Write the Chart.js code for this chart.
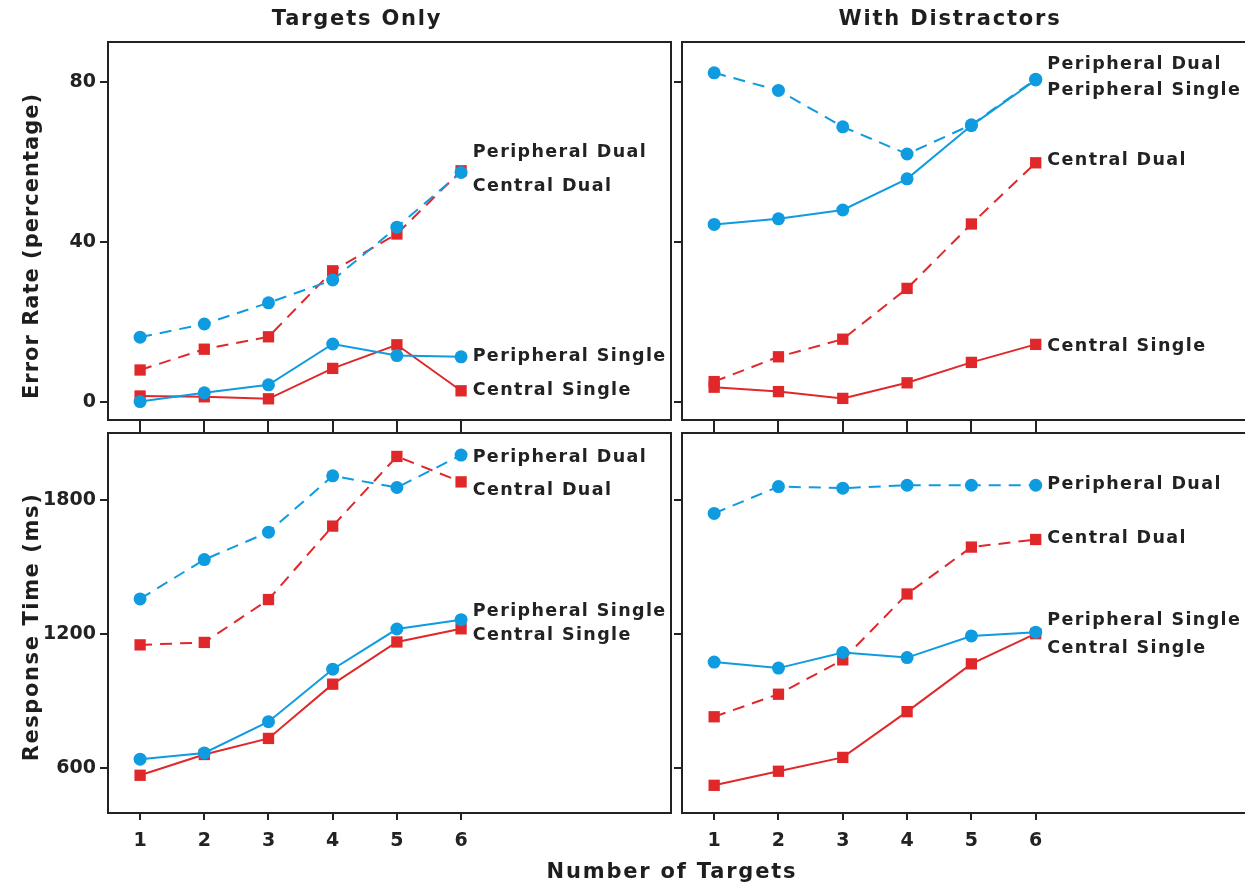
<!DOCTYPE html>
<html>
<head>
<meta charset="utf-8">
<script src="https://cdn.jsdelivr.net/npm/chart.js@4.4.1/dist/chart.umd.min.js"></script>
<style>
  body { margin: 0; background: #fff; width: 1245px; height: 885px; overflow: hidden; position: relative; font-family: "DejaVu Sans", sans-serif; }
  canvas { position: absolute; }
  .txt { position: absolute; font-weight: bold; font-size: 21px; color: #1e1e1e; white-space: nowrap; letter-spacing: 1.8px; }
  .rot { transform: translate(-50%, -50%) rotate(-90deg); letter-spacing: 1.4px; }
  .ctr { transform: translate(-50%, -50%); }
</style>
</head>
<body>
<canvas id="c1" width="680" height="440" style="left:0;top:0"></canvas>
<canvas id="c2" width="600" height="440" style="left:672px;top:0"></canvas>
<canvas id="c3" width="680" height="470" style="left:0;top:415px"></canvas>
<canvas id="c4" width="600" height="470" style="left:672px;top:415px"></canvas>

<div class="txt ctr" style="left:357px;top:18px">Targets Only</div>
<div class="txt ctr" style="left:950px;top:18px">With Distractors</div>
<div class="txt rot" style="left:31px;top:246px;letter-spacing:1px">Error Rate (percentage)</div>
<div class="txt rot" style="left:31px;top:627px;letter-spacing:1.6px">Response Time (ms)</div>
<div class="txt ctr" style="left:672px;top:871px">Number of Targets</div>

<script>
// datos
const xCats = [1, 2, 3, 4, 5, 6];
const seriesNames = ["Peripheral Dual", "Peripheral Single", "Central Dual", "Central Single"];

// Error rate - Targets Only
const errOnlyPD = [16.2, 19.5, 24.8, 30.5, 43.7, 57.4];
const errOnlyPS = [0.1, 2.3, 4.3, 14.5, 11.6, 11.3];
const errOnlyCD = [8.0, 13.2, 16.3, 32.8, 42.0, 57.8];
const errOnlyCS = [1.5, 1.3, 0.8, 8.4, 14.3, 2.8];
const errOnlyLabelY = [62.3, 11.3, 54.0, 3.0];

// Error rate - With Distractors
const errDisPD = [82.3, 77.9, 68.8, 62.0, 69.3, 80.7];
const errDisPS = [44.4, 45.8, 48.0, 55.8, 69.1, 80.5];
const errDisCD = [5.1, 11.3, 15.7, 28.4, 44.5, 59.8];
const errDisCS = [3.7, 2.6, 0.9, 4.8, 9.9, 14.4];
const errDisLabelY = [84.5, 78.0, 60.3, 14.0];

// Response time - Targets Only
const rtOnlyPD = [1357, 1533, 1656, 1908, 1856, 2001];
const rtOnlyPS = [639, 667, 807, 1042, 1222, 1264];
const rtOnlyCD = [1151, 1162, 1354, 1683, 1995, 1881];
const rtOnlyCS = [567, 660, 732, 975, 1164, 1223];
const rtOnlyLabelY = [1992, 1300, 1844, 1192];

// Response time - With Distractors
const rtDisPD = [1740, 1860, 1853, 1866, 1866, 1866];
const rtDisPS = [1074, 1047, 1117, 1094, 1191, 1208];
const rtDisCD = [829, 930, 1084, 1379, 1589, 1623];
const rtDisCS = [522, 585, 647, 852, 1066, 1201];
const rtDisLabelY = [1871, 1259, 1628, 1133];

const errTicks = [0, 40, 80];
const rtTicks = [600, 1200, 1800];
const labelX = 6.18;

const BLUE = "#0f9be0";
const RED = "#e0282b";
const INK = "#222222";

// caja alrededor del area
const boxPlugin = {
  id: "box",
  afterDraw(chart) {
    const a = chart.chartArea, ctx = chart.ctx;
    ctx.save();
    ctx.strokeStyle = INK;
    ctx.lineWidth = 2;
    ctx.strokeRect(a.left, a.top, a.right - a.left, a.bottom - a.top);
    ctx.restore();
  }
};

// etiquetas de series
const labelPlugin = {
  id: "seriesLabels",
  afterDatasetsDraw(chart, args, opts) {
    const ctx = chart.ctx;
    ctx.save();
    ctx.font = "bold 17.5px 'DejaVu Sans'";
    ctx.fillStyle = INK;
    ctx.textBaseline = "middle";
    ctx.letterSpacing = "1.4px";
    opts.ys.forEach((v, i) => {
      ctx.fillText(seriesNames[i], chart.scales.x.getPixelForValue(labelX), chart.scales.y.getPixelForValue(v));
    });
    ctx.restore();
  }
};

function pts(arr) {
  return xCats.map((x, i) => ({x: x, y: arr[i]}));
}

function ds(arr, color, dashed, shape) {
  return {
    data: pts(arr),
    borderColor: color,
    backgroundColor: color,
    borderWidth: 2,
    borderDash: dashed ? [12, 8] : [],
    pointStyle: shape,
    pointRadius: shape === "rect" ? 8 : 6.5,
    pointBorderWidth: 0,
    tension: 0
  };
}

const tickFont = {family: "DejaVu Sans", size: 19, weight: "bold"};

function makeChart(id, series, cfg) {
  return new Chart(document.getElementById(id), {
    type: "line",
    data: {
      datasets: [
        ds(series[0], BLUE, true, "circle"),
        ds(series[1], BLUE, false, "circle"),
        ds(series[2], RED, true, "rect"),
        ds(series[3], RED, false, "rect")
      ]
    },
    options: {
      responsive: false,
      animation: false,
      layout: {padding: cfg.padding},
      plugins: {
        legend: {display: false},
        tooltip: {enabled: false},
        seriesLabels: {ys: cfg.labelYs}
      },
      scales: {
        x: {
          type: "linear",
          min: 0.5,
          max: 9.27,
          afterBuildTicks: axis => { axis.ticks = xCats.map(v => ({value: v})); },
          afterFit: s => { s.height = cfg.xHeight; },
          border: {display: false},
          grid: {drawOnChartArea: false, drawTicks: true, tickLength: cfg.xTickLen, color: INK, lineWidth: 2},
          ticks: {display: cfg.showX, padding: 10, color: INK, font: tickFont, callback: v => String(v)}
        },
        y: {
          min: cfg.yMin,
          max: cfg.yMax,
          afterBuildTicks: axis => { axis.ticks = cfg.yTicks.map(v => ({value: v})); },
          afterFit: s => { s.width = cfg.yWidth; },
          border: {display: false},
          grid: {drawOnChartArea: false, drawTicks: true, tickLength: 8, color: INK, lineWidth: 2},
          ticks: {display: cfg.showY, padding: 4, color: INK, font: tickFont, callback: v => String(v)}
        }
      }
    },
    plugins: [boxPlugin, labelPlugin]
  });
}

makeChart("c1", [errOnlyPD, errOnlyPS, errOnlyCD, errOnlyCS], {
  padding: {top: 42, right: 9, left: 0, bottom: 0},
  xHeight: 20, xTickLen: 12, showX: false,
  yWidth: 108, showY: true, yMin: -4.5, yMax: 90, yTicks: errTicks, labelYs: errOnlyLabelY
});
makeChart("c2", [errDisPD, errDisPS, errDisCD, errDisCS], {
  padding: {top: 42, right: 26, left: 0, bottom: 0},
  xHeight: 20, xTickLen: 12, showX: false,
  yWidth: 10, showY: false, yMin: -4.5, yMax: 90, yTicks: errTicks, labelYs: errDisLabelY
});
makeChart("c3", [rtOnlyPD, rtOnlyPS, rtOnlyCD, rtOnlyCS], {
  padding: {top: 18, right: 9, left: 0, bottom: 0},
  xHeight: 72, xTickLen: 7, showX: true,
  yWidth: 108, showY: true, yMin: 398, yMax: 2100, yTicks: rtTicks, labelYs: rtOnlyLabelY
});
makeChart("c4", [rtDisPD, rtDisPS, rtDisCD, rtDisCS], {
  padding: {top: 18, right: 26, left: 0, bottom: 0},
  xHeight: 72, xTickLen: 7, showX: true,
  yWidth: 10, showY: false, yMin: 398, yMax: 2100, yTicks: rtTicks, labelYs: rtDisLabelY
});
</script>
</body>
</html>
